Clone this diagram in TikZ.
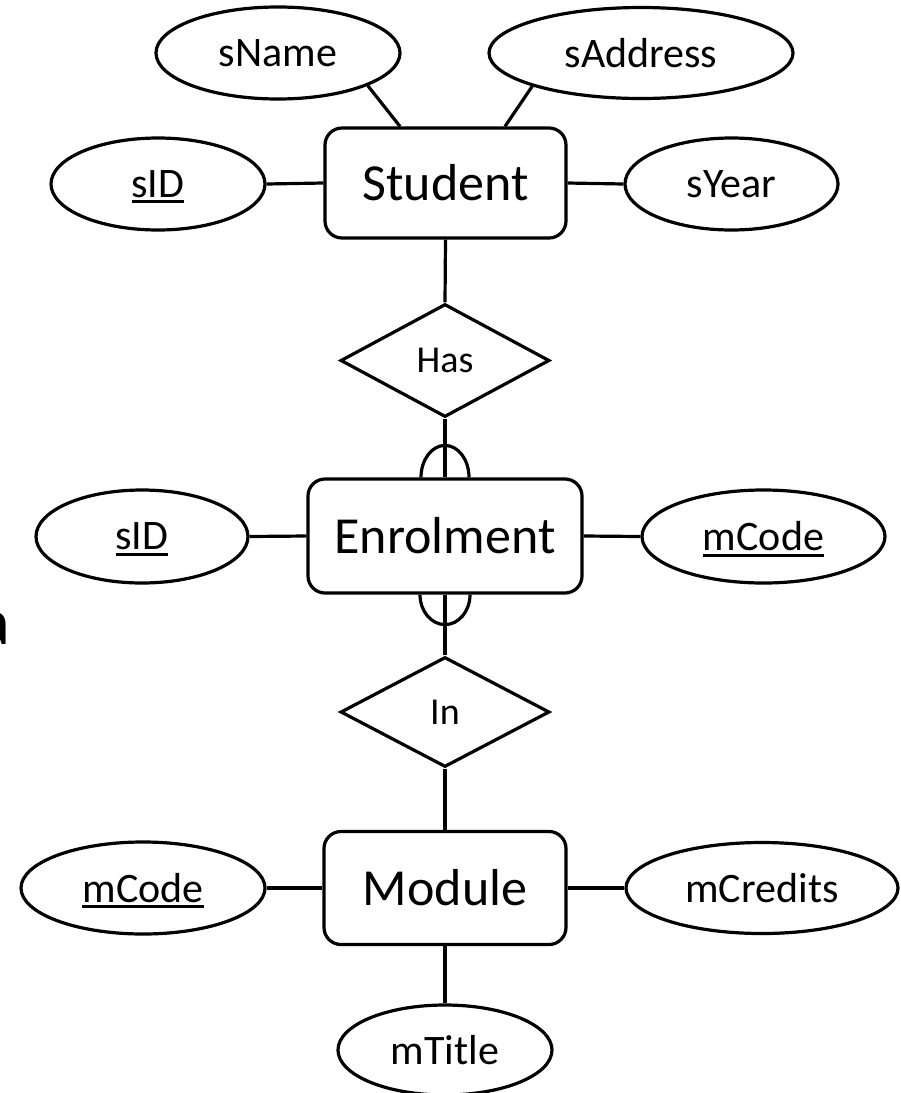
\documentclass[tikz,border=0pt]{standalone}
\usepackage{fontspec}
\setmainfont{Carlito}
\usetikzlibrary{shapes.geometric}
% key attributes get a heavy underline that adds no depth to the label
\newsavebox\keybox
\newcommand\keyattr[1]{\sbox\keybox{#1}\rlap{\smash{\rule[-6pt]{\wd\keybox}{3pt}}}\usebox\keybox}

\begin{document}
\begin{tikzpicture}[x=1pt,y=-1pt,
  every node/.style={line width=3.2pt, inner sep=0pt},
  entity/.style={draw, rectangle, rounded corners=17pt, font=\fontsize{52}{60}\selectfont},
  attr/.style={draw, ellipse, font=\fontsize{42}{48}\selectfont},
  rel/.style={draw, diamond, font=\fontsize{38}{44}\selectfont},
  link/.style={line width=3.2pt}]
\clip (0,0) rectangle (901,1093);
\fill[white] (0,0) rectangle (901,1093);

% entities
\node[entity, minimum width=241pt, minimum height=110pt] (student) at (445.5,183) {Student};
\node[entity, minimum width=274pt, minimum height=114pt] (enrol) at (445,536) {Enrolment};
\node[entity, minimum width=242pt, minimum height=113pt] (module) at (445,888) {Module};

% relationships
\node[rel, minimum width=209pt, minimum height=113pt] (has) at (445,360.5) {Has};
\node[rel, minimum width=209pt, minimum height=110pt] (in) at (445,712) {In};

% attributes
\node[attr, minimum width=244pt, minimum height=92pt] (sname) at (278,53) {sName};
\node[attr, minimum width=304pt, minimum height=91pt] (saddr) at (641,53) {sAddress};
\node[attr, minimum width=214pt, minimum height=92pt] (sida) at (158,184) {\keyattr{sID}};
\node[attr, minimum width=213pt, minimum height=92pt] (syear) at (731.5,184) {sYear};
\node[attr, minimum width=212pt, minimum height=93pt] (sidb) at (142,536.5) {\keyattr{sID}};
\node[attr, minimum width=243pt, minimum height=93pt] (mcodea) at (763.5,536.5) {\keyattr{mCode}};
\node[attr, minimum width=244pt, minimum height=92pt] (mcodeb) at (143,888) {\keyattr{mCode}};
\node[attr, minimum width=272pt, minimum height=91pt] (mcred) at (762,888) {mCredits};
\node[attr, minimum width=214pt, minimum height=90pt] (mtitle) at (445,1050) {mTitle};

% stray letter at the left edge
\node[anchor=base east, font=\fontsize{66}{70}\selectfont] (cut) at (12,644) {a};

% attribute links
\draw[link] (sname.-20) -- ([xshift=-45.5pt]student.north);
\draw[link] (saddr.197) -- ([xshift=59.5pt]student.north);
\draw[link] (sida.east) -- (student.west);
\draw[link] (student.east) -- (syear.west);
\draw[link] (sidb.east) -- (enrol.west);
\draw[link] (enrol.east) -- (mcodea.west);
\draw[link] (mcodeb.east) -- (module.west);
\draw[link] (module.east) -- (mcred.west);
\draw[link] (module.south) -- (mtitle.north);

% relationship links
\draw[link] (student.south) -- (has.north);
\draw[link] (has.south) -- (enrol.north);
\draw[link] (enrol.south) -- (in.north);
\draw[link] (in.south) -- (module.north);

% cardinality arcs on the Enrolment side
\draw[link] ([xshift=-24pt]enrol.north) arc[start angle=180, end angle=0, x radius=24pt, y radius=32pt];
\draw[link] ([xshift=-25pt]enrol.south) arc[start angle=180, end angle=360, x radius=25pt, y radius=30pt];
\end{tikzpicture}
\end{document}
